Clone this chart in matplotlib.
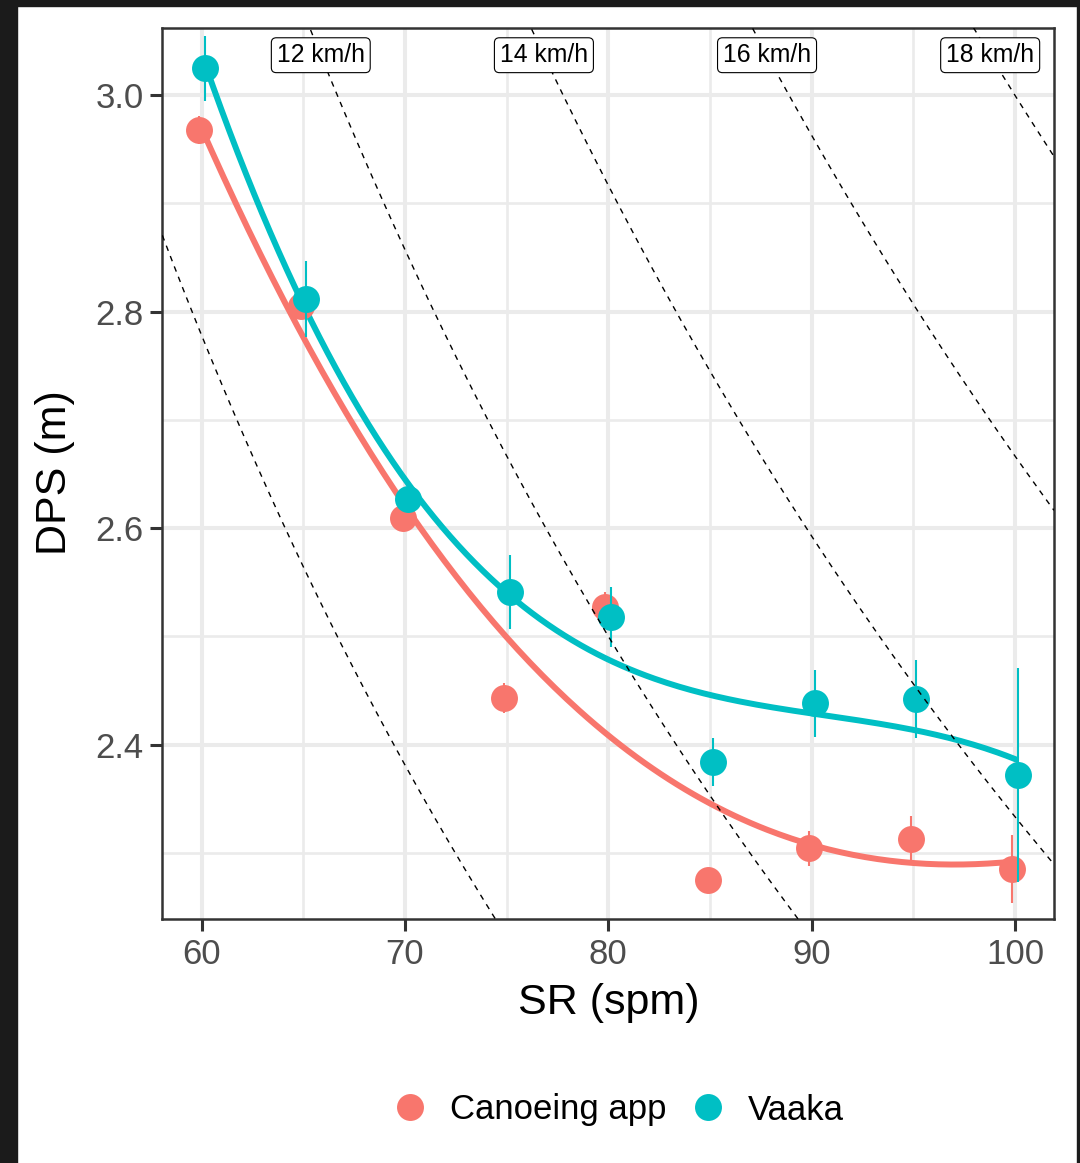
import numpy as np
import matplotlib.pyplot as plt
from matplotlib.patches import Rectangle
from matplotlib.lines import Line2D

plt.rcParams['font.family'] = ['Liberation Sans', 'DejaVu Sans']

# group names and colours (ggplot defaults)
groups = ['Canoeing app', 'Vaaka']
colors = ['#F8766D', '#00BFC4']

# mean stroke rate / distance per stroke
app_sr = [59.87, 64.88, 69.88, 74.87, 79.83, 84.9, 89.87, 94.88, 99.87]
app_dps = [2.968, 2.805, 2.609, 2.443, 2.527, 2.275, 2.304, 2.313, 2.285]
app_err = [0.013, 0.010, 0.008, 0.014, 0.014, 0.008, 0.016, 0.021, 0.031]

vaaka_sr = [60.16, 65.13, 70.13, 75.15, 80.13, 85.16, 90.16, 95.12, 100.15]
vaaka_dps = [3.025, 2.812, 2.627, 2.541, 2.518, 2.384, 2.438, 2.442, 2.372]
vaaka_err = [0.030, 0.035, 0.010, 0.034, 0.028, 0.022, 0.031, 0.036, 0.099]

# iso-speed reference lines (km/h)
speeds = [10, 12, 14, 16, 18]
label_dps = 3.037

x_ticks = [60, 70, 80, 90, 100]
y_ticks = [2.4, 2.6, 2.8, 3.0]

fig = plt.figure(figsize=(10.8, 11.63), dpi=100)
ax = fig.add_axes([0.1503, 0.2098, 0.8256, 0.7659])

xlim = (58.06, 101.92)
ylim = (2.2388, 3.0619)

# grid
ax.set_xticks(x_ticks)
ax.set_yticks(y_ticks)
ax.set_xticks([65, 75, 85, 95], minor=True)
ax.set_yticks([2.3, 2.5, 2.7, 2.9], minor=True)
ax.grid(which='major', color='#EBEBEB', linewidth=2.9, zorder=0)
ax.grid(which='minor', color='#EBEBEB', linewidth=1.9, zorder=0)
ax.set_axisbelow(True)

series = [(app_sr, app_dps, app_err), (vaaka_sr, vaaka_dps, vaaka_err)]
for (sr, dps, err), col in zip(series, colors):
    sr = np.array(sr)
    dps = np.array(dps)
    err = np.array(err)
    # smooth trend: cubic fit through the means
    coef = np.polyfit(sr, dps, 3)
    xs = np.linspace(sr.min(), sr.max(), 200)
    ax.plot(xs, np.polyval(coef, xs), color=col, linewidth=4.3, zorder=2,
            solid_capstyle='butt')
    ax.vlines(sr, dps - err, dps + err, color=col, linewidth=1.5, zorder=3)
    ax.plot(sr, dps, 'o', color=col, markersize=19.4, markeredgewidth=0,
            zorder=3)

# dashed iso-speed lines and their labels
sr_grid = np.linspace(xlim[0], xlim[1], 300)
for v in speeds:
    ax.plot(sr_grid, v / (0.06 * sr_grid), color='black', linewidth=1.0,
            linestyle=(0, (4, 4)), zorder=4)
    x_lab = v / (0.06 * label_dps)
    if xlim[0] < x_lab < xlim[1]:
        ax.text(x_lab, label_dps, f'{v} km/h', fontsize=17.8, ha='center',
                va='center', zorder=5,
                bbox=dict(boxstyle='round,pad=0.22,rounding_size=0.2',
                          facecolor='white', edgecolor='black', linewidth=0.8))

ax.set_xlim(xlim)
ax.set_ylim(ylim)

for s in ax.spines.values():
    s.set_color('#333333')
    s.set_linewidth(1.8)
ax.tick_params(which='major', length=8.6, width=2.2, color='#333333',
               labelsize=25, labelcolor='#4D4D4D', pad=5)
ax.tick_params(which='minor', length=0)
ax.set_yticklabels(['2.4', '2.6', '2.8', '3.0'])

fig.text(0.5634, 1 - 1003 / 1163, 'SR (spm)', fontsize=31, ha='center',
         va='center')
fig.text(55 / 1080, 1 - 473 / 1163, 'DPS (m)', fontsize=31, ha='center',
         va='center', rotation=90)

handles = [Line2D([], [], linestyle='none', marker='o', markersize=19.4,
                  markeredgewidth=0, color=c) for c in colors]
fig.legend(handles, groups, loc='center', bbox_to_anchor=(620 / 1080, 1 - 1110 / 1163),
           ncol=2, frameon=False, fontsize=25, handlelength=0.8,
           handletextpad=0.75, columnspacing=0.8, borderpad=0)

# dark frame around the screenshot
edge = '#1b1b1b'
fig.patches.append(Rectangle((0, 0), 17 / 1080, 1, transform=fig.transFigure,
                             color=edge, zorder=10))
fig.patches.append(Rectangle((0, 1 - 6 / 1163), 1, 6 / 1163,
                             transform=fig.transFigure, color=edge, zorder=10))
fig.patches.append(Rectangle((1 - 3 / 1080, 0), 3 / 1080, 1,
                             transform=fig.transFigure, color=edge, zorder=10))

fig.savefig('out.png', dpi=100)
